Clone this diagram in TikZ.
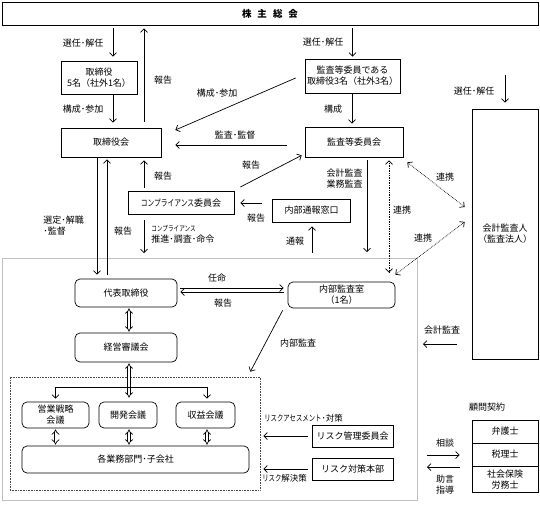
\documentclass[tikz,border=0pt]{standalone}
\usepackage{fontspec}
\setmainfont{Noto Sans CJK JP}
\usepackage{graphicx}
\usetikzlibrary{arrows.meta}
\newcommand{\kana}[1]{\scalebox{0.75}[1]{#1}}

\begin{document}
\begin{tikzpicture}[x=1pt, y=-1pt, line width=0.7pt,
  font=\fontsize{9}{11}\selectfont,
  >={Straight Barb[length=3.5pt,width=7pt]},
  box/.style={draw=black, inner sep=0pt, align=center},
  rbox/.style={box, rounded corners=5pt},
  lbl/.style={inner sep=0pt, align=center},
  link/.style={<->, densely dotted},
  dbl/.style={double, double distance=2pt, {Implies}-{Implies}}]
\useasboundingbox (0,0) rectangle (540,504);

% boxes
\node[box, minimum width=536pt, minimum height=23pt, font=\fontsize{9.5}{11}\selectfont\bfseries] (soukai) at (270,13.5) {株\hspace{6pt}主\hspace{6pt}総\hspace{6pt}会};
\node[box, minimum width=76pt, minimum height=33pt] (torishimari) at (99,77.5) {取締役\\5名（社外1名）};
\node[box, minimum width=100pt, minimum height=29pt] (torikai) at (111,142.5) {取締役会};
\node[box, minimum width=95pt, minimum height=34pt] (kansaiin) at (352.5,76) {監査等委員である\\取締役3名（社外3名）};
\node[box, minimum width=98pt, minimum height=30pt] (kansakai) at (354,142) {監査等委員会};
\node[box, minimum width=66pt, minimum height=250pt] (kaikei) at (505,234) {会計監査人\\（監査法人）};
\node[box, minimum width=106pt, minimum height=23pt] (comp) at (181,203) {\kana{コンプライアンス}委員会};
\node[box, minimum width=78pt, minimum height=23pt] (tsuho) at (311.5,210.5) {内部通報窓口};

% company frame
\draw[gray!50] (2,258) rectangle (417,500);
\node[draw=black!70, densely dotted, line width=0.6pt, inner sep=0pt, minimum width=250pt, minimum height=113pt] (grp) at (135,433.5) {};

\node[rbox, minimum width=102pt, minimum height=28pt] (daihyo) at (126,293) {代表取締役};
\node[rbox, minimum width=107pt, minimum height=26pt] (naibu) at (341.5,295) {内部監査室\\（1名）};
\node[rbox, minimum width=102pt, minimum height=29pt] (keiei) at (126,347.5) {経営審議会};
\node[rbox, minimum width=67pt, minimum height=26pt] (eigyo) at (55.5,415) {営業戦略\\会議};
\node[rbox, minimum width=58pt, minimum height=26pt] (kaihatsu) at (128,415) {開発会議};
\node[rbox, minimum width=59pt, minimum height=26pt] (shueki) at (205.5,415) {収益会議};
\node[rbox, minimum width=227pt, minimum height=27pt] (kakugyomu) at (135.5,459.5) {各業務部門･子会社};

\node[box, minimum width=81pt, minimum height=22pt] (riskkanri) at (352.5,436) {リスク管理委員会};
\node[box, minimum width=81pt, minimum height=22pt] (risktaisaku) at (352.5,469) {リスク対策本部};

\node[box, minimum width=66pt, minimum height=23pt] (bengoshi) at (505,431.5) {弁護士};
\node[box, minimum width=66pt, minimum height=23pt] (zeirishi) at (505,454.5) {税理士};
\node[box, minimum width=66pt, minimum height=26pt] (sharoushi) at (505,479.5) {社会保険\\労務士};

% free ends
\coordinate (caudit) at (423,344);
\coordinate (ccomp) at (144,253);
\coordinate (ctsuho) at (312,253);
\coordinate (cgyomu) at (367,252);
\coordinate (cbranch) at (129,387);
\coordinate (csodan) at (427,455);
\coordinate (cjogen) at (427,467);

% shareholders
\draw[->, shorten <=3pt, shorten >=4pt] ([xshift=14pt]torishimari.north |- soukai.south) -- ([xshift=14pt]torishimari.north);
\node[lbl] (lsennin1) at (83,43) {選任･解任};
\draw[->, shorten <=6pt, shorten >=3pt] ([xshift=33pt]torikai.north) -- ([xshift=33pt]torikai.north |- soukai.south);
\node[lbl] (lhoukoku1) at (163,80) {報告};
\draw[->, shorten >=5pt] ([xshift=14pt]torishimari.south) -- ([xshift=14pt]torishimari.south |- torikai.north);
\node[lbl] (lkousei1) at (83,109) {構成･参加};
\draw[->] ([xshift=-9pt,yshift=-2pt]kansaiin.west) -- ([xshift=14pt,yshift=12.5pt]torikai.east);
\node[lbl] (lkousei2) at (217,93) {構成･参加};
\draw[->, shorten <=3pt, shorten >=2pt] (kansaiin.north |- soukai.south) -- (kansaiin.north);
\node[lbl] (lsennin2) at (323,42) {選任･解任};
\draw[->, shorten >=3pt] ([xshift=-0.5pt]kansaiin.south) -- ([xshift=-2pt]kansakai.north);
\node[lbl] (lkousei3) at (333,109) {構成};
\draw[->] ([xshift=-18pt,yshift=-3pt]kansakai.west) -- ([xshift=14pt,yshift=-2.5pt]torikai.east);
\node[lbl] (lkansa) at (235,135) {監査･監督};
\draw[->] ([yshift=34pt]kaikei.north) -- ([yshift=6pt]kaikei.north);
\node[lbl] (lsennin3) at (474,91) {選任･解任};
\draw[->, shorten <=15pt] (kaikei.west |- caudit) -- (caudit);
\node[lbl] (lkaikei) at (442,330) {会計監査};

% compliance
\draw[->, shorten <=3pt, shorten >=3pt] ([xshift=-37pt]comp.north) -- ([xshift=33pt]torikai.south);
\node[lbl] (lhoukoku2) at (163,176) {報告};
\draw[->, shorten >=4pt] ([xshift=-14pt]torikai.south) -- ([xshift=-29pt]daihyo.north);
\node[lbl, anchor=west, align=left] (lsentei) at (43,226) {選定･解職\\･監督};
\draw[->, shorten <=4pt, shorten >=2pt] ([xshift=-19pt]daihyo.north) -- ([xshift=-4pt]torikai.south);
\node[lbl] (lhoukoku3) at (123,231) {報告};
\draw[->, shorten <=5pt] ([xshift=-37pt]comp.south) -- (ccomp);
\node[lbl, anchor=west, align=left] (lsuishin) at (151,234) {{\fontsize{7.5}{8}\selectfont\kana{コンプライアンス}}\\推進･調査･命令};
\draw[->] ([xshift=6pt,yshift=16pt]comp.east) -- ([xshift=-3pt,yshift=2pt]kansakai.south west);
\node[lbl] (lhoukoku4) at (251,165) {報告};
\draw[->, shorten <=10pt, shorten >=6pt] (tsuho.west |- comp.east) -- (comp.east);
\node[lbl] (lhoukoku5) at (256,218) {報告};
\draw[->, shorten >=4pt] (ctsuho) -- (ctsuho |- tsuho.south);
\node[lbl] (ltsuho) at (295,241) {通報};
\draw[->, shorten <=3pt] (cgyomu |- kansakai.south) -- (cgyomu);
\node[lbl, anchor=east, align=right] (lgyomu) at (363,179) {会計監査\\業務監査};

% cooperation
\draw[link, shorten <=3pt, shorten >=9pt] ([xshift=35pt]kansakai.south) -- ([xshift=47.5pt]naibu.north);
\node[lbl] (lrenkei1) at (402,210) {連携};
\draw[link] ([xshift=4pt,yshift=-5pt]kansakai.south east) -- ([xshift=-7pt,yshift=27pt]kaikei.west);
\node[lbl] (lrenkei2) at (445,177) {連携};
\draw[link] ([yshift=7pt]naibu.north east) -- ([xshift=-7pt,yshift=12pt]kaikei.west);
\node[lbl] (lrenkei3) at (423,238) {連携};

% inside the company
\draw[->, shorten <=3pt, shorten >=4pt] ([yshift=5pt]daihyo.east) -- ([yshift=7pt]naibu.west);
\node[lbl] (lninmei) at (217,278) {任命};
\draw[->, shorten <=4pt, shorten >=3pt] ([yshift=3pt]naibu.west) -- ([yshift=1pt]daihyo.east);
\node[lbl] (lhoukoku6) at (223,303) {報告};
\draw[->] ([xshift=-5pt,yshift=-2pt]naibu.south west) -- ([xshift=-10pt,yshift=5pt]grp.north east);
\node[lbl] (lnaibu) at (298,343) {内部監査};

\draw[dbl, shorten <=1pt, shorten >=1pt] ([xshift=3pt]daihyo.south) -- ([xshift=3pt]keiei.north);
\draw[dbl, shorten <=1pt, shorten >=4pt] ([xshift=3pt]keiei.south) -- ([xshift=1pt]kaihatsu.north);
\draw[->, shorten >=3pt] (cbranch) -| (eigyo.north);
\draw[->, shorten >=3pt] (cbranch) -| ([xshift=1.5pt]shueki.north);
\draw[dbl, shorten <=1pt, shorten >=1pt] (eigyo.south) -- (eigyo.south |- kakugyomu.north);
\draw[dbl, shorten <=1pt, shorten >=1pt] ([xshift=1pt]kaihatsu.south) -- ([xshift=1pt]kaihatsu.south |- kakugyomu.north);
\draw[dbl, shorten <=1pt, shorten >=1pt] ([xshift=1.5pt]shueki.south) -- ([xshift=1.5pt]shueki.south |- kakugyomu.north);

% risk
\draw[->, shorten <=4pt, shorten >=3pt] (riskkanri.west) -- (grp.east |- riskkanri.west);
\node[lbl, anchor=west] (lassess) at (264,418) {{\fontsize{8.5}{9}\selectfont\kana{リスクアセスメント}･対策}};
\draw[->, shorten <=4pt, shorten >=3pt] (risktaisaku.west) -- (grp.east |- risktaisaku.west);
\node[lbl, anchor=west] (lkaiketsu) at (262,478) {{\fontsize{8.5}{9}\selectfont\kana{リスク}解決策}};

% advisers
\node[lbl] (lkomon) at (487,407) {顧問契約};
\draw[->, shorten >=12pt] (csodan) -- (csodan -| zeirishi.west);
\node[lbl] (lsodan) at (445,443) {相談};
\draw[->, shorten <=12pt] (cjogen -| zeirishi.west) -- (cjogen);
\node[lbl] (ljogen) at (445,485) {助言\\指導};
\end{tikzpicture}
\end{document}
